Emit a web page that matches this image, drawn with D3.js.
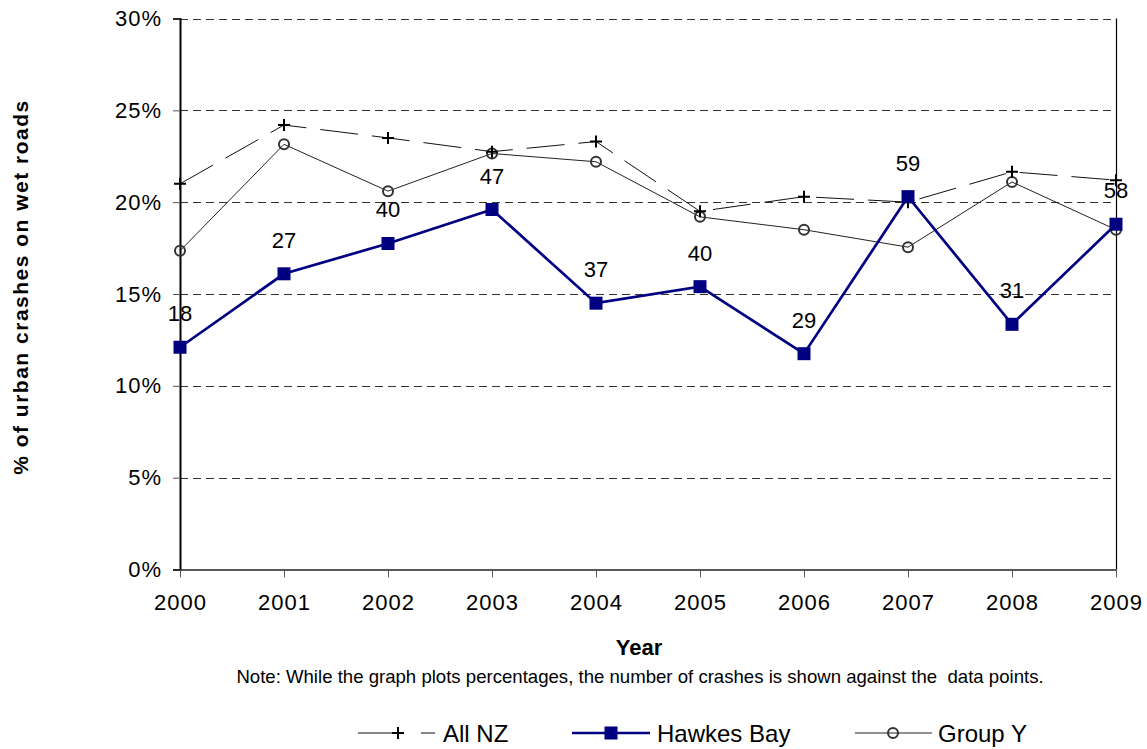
<!DOCTYPE html>
<html><head><meta charset="utf-8">
<script src="https://cdn.jsdelivr.net/npm/d3@7"></script>
<style>body{margin:0;background:#fff}svg{display:block}text{font-family:Arial,"Liberation Sans",sans-serif}</style>
</head><body>
<svg id="c" width="1147" height="749"></svg>
<script>
const years = ["2000","2001","2002","2003","2004","2005","2006","2007","2008","2009"];
const allNZ = [21.0, 24.2, 23.5, 22.75, 23.3, 19.5, 20.3, 20.0, 21.65, 21.2];
const hawkesBay = [12.1, 16.1, 17.75, 19.6, 14.5, 15.4, 11.75, 20.3, 13.35, 18.8];
const groupY = [17.35, 23.15, 20.6, 22.65, 22.2, 19.2, 18.5, 17.55, 21.1, 18.5];
const crashCounts = [18, 27, 40, 47, 37, 40, 29, 59, 31, 58];
const yTicks = [0, 5, 10, 15, 20, 25, 30];

const svg = d3.select("#c");
const L = 180, R = 1116, T = 18.5, B = 569.5;
const x = d3.scalePoint().domain(years).range([L, R]);
const y = d3.scaleLinear().domain([0, 30]).range([B, T]);

// gridlines
svg.append("g").selectAll("line").data(yTicks.filter(d => d > 0)).join("line")
  .attr("x1", L).attr("x2", R).attr("y1", d => Math.round(y(d)) + 0.5).attr("y2", d => Math.round(y(d)) + 0.5)
  .attr("stroke", "#333").attr("stroke-width", 1).attr("stroke-dasharray", "8,5");

// right border
svg.append("line").attr("x1", R + 0.5).attr("x2", R + 0.5).attr("y1", T).attr("y2", B).attr("stroke", "#000").attr("stroke-width", 1.2);

// y axis
const ya = svg.append("g").attr("transform", `translate(${L},0)`)
  .call(d3.axisLeft(y).tickValues(yTicks).tickFormat(d => d + "%").tickSize(7).tickPadding(11));
ya.select(".domain").attr("stroke", "#000").attr("stroke-width", 2);
ya.selectAll(".tick line").attr("stroke", "#555");
ya.selectAll("text").attr("font-size", 22).attr("letter-spacing", 1).attr("fill", "#000");

// x axis
const xa = svg.append("g").attr("transform", `translate(0,${B})`)
  .call(d3.axisBottom(x).tickSize(8).tickPadding(17).tickSizeOuter(0));
xa.select(".domain").attr("stroke", "#222").attr("stroke-width", 1.5);
xa.selectAll(".tick line").attr("stroke", "#555");
xa.selectAll("text").attr("font-size", 22).attr("letter-spacing", 1).attr("fill", "#000");

const line = d3.line().x((d, i) => x(years[i])).y(d => y(d));

// Group Y
svg.append("path").datum(groupY).attr("d", line).attr("fill", "none").attr("stroke", "#222").attr("stroke-width", 1);
// All NZ
svg.append("path").datum(allNZ).attr("d", line).attr("fill", "none").attr("stroke", "#111").attr("stroke-width", 1).attr("stroke-dasharray", "38,14");
// Hawkes Bay
svg.append("path").datum(hawkesBay).attr("d", line).attr("fill", "none").attr("stroke", "#000080").attr("stroke-width", 2.7);

function plus(g, cx, cy) {
  g.append("path").attr("d", `M${cx-6},${cy}H${cx+6}M${cx},${cy-6}V${cy+6}`).attr("stroke", "#000").attr("stroke-width", 2);
}
function circ(g, cx, cy) {
  g.append("circle").attr("cx", cx).attr("cy", cy).attr("r", 5).attr("fill", "none").attr("stroke", "#333").attr("stroke-width", 2);
}
function sq(g, cx, cy) {
  g.append("rect").attr("x", cx - 6.5).attr("y", cy - 6.5).attr("width", 13).attr("height", 13).attr("fill", "#000080");
}
const mk = svg.append("g");
groupY.forEach((v, i) => circ(mk, x(years[i]), y(v)));
allNZ.forEach((v, i) => plus(mk, x(years[i]), y(v)));
hawkesBay.forEach((v, i) => sq(mk, x(years[i]), y(v)));

// labels
svg.append("g").selectAll("text").data(hawkesBay).join("text")
  .attr("x", (d, i) => x(years[i])).attr("y", d => y(d) - 26)
  .attr("text-anchor", "middle").attr("font-size", 22).attr("fill", "#000")
  .text((d, i) => crashCounts[i]);

// titles
svg.append("text").attr("transform", "translate(28,287) rotate(-90)").attr("text-anchor", "middle")
  .attr("font-size", 21).attr("font-weight", "bold").attr("letter-spacing", 1.5).text("% of urban crashes on wet roads");
svg.append("text").attr("x", 639).attr("y", 655).attr("text-anchor", "middle")
  .attr("font-size", 22).attr("font-weight", "bold").text("Year");
svg.append("text").attr("x", 640).attr("y", 683).attr("text-anchor", "middle")
  .attr("font-size", 18.6).text("Note: While the graph plots percentages, the number of crashes is shown against the  data points.")
  .attr("xml:space", "preserve").style("white-space", "pre");

// legend
const ly = 733;
const lg = svg.append("g");
lg.append("line").attr("x1", 358).attr("x2", 392).attr("y1", ly).attr("y2", ly).attr("stroke", "#111").attr("stroke-width", 1);
lg.append("line").attr("x1", 421).attr("x2", 435).attr("y1", ly).attr("y2", ly).attr("stroke", "#111").attr("stroke-width", 1);
plus(lg, 398, ly);
lg.append("text").attr("x", 443).attr("y", ly + 8.5).attr("font-size", 24).text("All NZ");
lg.append("line").attr("x1", 572).attr("x2", 650).attr("y1", ly).attr("y2", ly).attr("stroke", "#000080").attr("stroke-width", 2.7);
sq(lg, 611, ly);
lg.append("text").attr("x", 657).attr("y", ly + 8.5).attr("font-size", 24).text("Hawkes Bay");
lg.append("line").attr("x1", 855).attr("x2", 932).attr("y1", ly).attr("y2", ly).attr("stroke", "#222").attr("stroke-width", 1);
circ(lg, 893, ly);
lg.append("text").attr("x", 938).attr("y", ly + 8.5).attr("font-size", 24).text("Group Y");
</script>
</body></html>
